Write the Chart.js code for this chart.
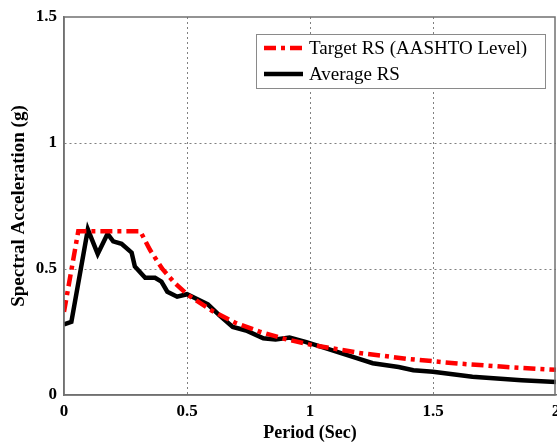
<!DOCTYPE html>
<html>
<head>
<meta charset="utf-8">
<script src="https://cdn.jsdelivr.net/npm/chart.js@4.4.1/dist/chart.umd.min.js"></script>
<style>
  html, body { margin: 0; padding: 0; background: #fff; }
  #wrap { width: 557px; height: 445px; }
</style>
</head>
<body>
<div id="wrap"><canvas id="rs" width="557" height="445"></canvas></div>
<script>
// values
const periodTarget = [0, 0.058, 0.31, 0.35, 0.4, 0.45, 0.5, 0.6, 0.7, 0.8, 0.9, 1.0, 1.2, 1.4, 1.6, 1.8, 2.0];
const targetRS     = [0.33, 0.65, 0.65, 0.575, 0.5, 0.445, 0.4, 0.335, 0.285, 0.25, 0.222, 0.2, 0.167, 0.143, 0.125, 0.111, 0.1];

const periodAvg = [0, 0.03, 0.097, 0.137, 0.177, 0.2, 0.234, 0.275, 0.288, 0.33, 0.37, 0.396, 0.42, 0.46, 0.5,
                   0.585, 0.633, 0.686, 0.74, 0.81, 0.86, 0.917, 0.985, 1.066, 1.19, 1.255, 1.36, 1.42, 1.5, 1.66, 1.86, 2.0];
const avgRS     = [0.28, 0.29, 0.657, 0.56, 0.64, 0.61, 0.6, 0.565, 0.51, 0.465, 0.465, 0.45, 0.41, 0.39, 0.40,
                   0.36, 0.315, 0.27, 0.256, 0.225, 0.22, 0.228, 0.21, 0.185, 0.146, 0.126, 0.111, 0.098, 0.092, 0.072, 0.059, 0.052];

const xTicks = [0, 0.5, 1, 1.5, 2];
const yTicks = [0, 0.5, 1, 1.5];
const seriesNames = ['Target RS (AASHTO Level)', 'Average RS'];

const zip = (xs, ys) => xs.map((x, i) => ({ x: x, y: ys[i] }));
const SERIF = '"Liberation Serif", "Times New Roman", serif';
const GRID = '#808080';
const FRAME = '#707070';

// box round the plot + legend drawn inside, like the matlab figure
const frameAndLegend = {
  id: 'frameAndLegend',
  afterDatasetsDraw(chart) {
    const { ctx, chartArea: a } = chart;
    ctx.save();
    ctx.strokeStyle = FRAME;
    ctx.lineWidth = 1.5;
    ctx.strokeRect(a.left, a.top, a.right - a.left - 1, a.bottom - a.top);

    const bx = 256, by = 34, bw = 289, bh = 54;
    ctx.fillStyle = '#fff';
    ctx.fillRect(bx, by, bw, bh);
    ctx.strokeStyle = '#8a8a8a';
    ctx.lineWidth = 1;
    ctx.strokeRect(bx + 0.5, by + 0.5, bw, bh);

    chart.data.datasets.forEach((ds, i) => {
      const y = by + 14 + i * 26;
      ctx.beginPath();
      ctx.setLineDash(ds.borderDash || []);
      ctx.strokeStyle = ds.borderColor;
      ctx.lineWidth = ds.borderWidth;
      ctx.moveTo(bx + 8, y);
      ctx.lineTo(bx + 47, y);
      ctx.stroke();
      ctx.setLineDash([]);
      ctx.fillStyle = '#000';
      ctx.font = '19px ' + SERIF;
      ctx.textBaseline = 'middle';
      ctx.textAlign = 'left';
      ctx.fillText(ds.label, bx + 53, y + 1);
    });
    ctx.restore();
  }
};

new Chart(document.getElementById('rs'), {
  type: 'line',
  data: {
    datasets: [
      {
        label: seriesNames[0],
        data: zip(periodTarget, targetRS),
        borderColor: '#ff0000',
        borderWidth: 4.5,
        borderDash: [12, 5, 4, 5],
        pointRadius: 0,
        tension: 0,
        fill: false
      },
      {
        label: seriesNames[1],
        data: zip(periodAvg, avgRS),
        borderColor: '#000000',
        borderWidth: 4.5,
        pointRadius: 0,
        tension: 0,
        fill: false
      }
    ]
  },
  options: {
    responsive: false,
    animation: false,
    layout: { padding: { top: 17, right: 1, left: 0, bottom: 0 } },
    plugins: { legend: { display: false }, tooltip: { enabled: false } },
    scales: {
      x: {
        type: 'linear',
        min: 0, max: 2,
        afterFit: s => { s.height = 50; s.paddingLeft = 0; s.paddingRight = 0; },
        afterBuildTicks: s => { s.ticks = xTicks.map(v => ({ value: v })); },
        ticks: {
          color: '#000',
          padding: 6,
          font: { family: SERIF, size: 17, weight: 'bold' },
          callback: v => String(v)
        },
        grid: {
          drawTicks: false,
          color: c => (c.tick && c.tick.value > 0 && c.tick.value < 2) ? GRID : 'rgba(0,0,0,0)',
          lineWidth: 1
        },
        border: { display: true, color: FRAME, width: 1.5, dash: [2, 3] },
        title: {
          display: true,
          text: 'Period (Sec)',
          color: '#000',
          padding: { top: 0, bottom: 1 },
          font: { family: SERIF, size: 18, weight: 'bold' }
        }
      },
      y: {
        min: 0, max: 1.5,
        afterFit: s => { s.width = 64; s.paddingTop = 0; s.paddingBottom = 0; },
        afterBuildTicks: s => { s.ticks = yTicks.map(v => ({ value: v })); },
        ticks: {
          color: '#000',
          padding: 7,
          font: { family: SERIF, size: 17, weight: 'bold' },
          callback: v => String(v)
        },
        grid: {
          drawTicks: false,
          color: c => (c.tick && c.tick.value > 0 && c.tick.value < 1.5) ? GRID : 'rgba(0,0,0,0)',
          lineWidth: 1
        },
        border: { display: true, color: FRAME, width: 1.5, dash: [2, 3] },
        title: {
          display: true,
          text: 'Spectral Acceleration (g)',
          color: '#000',
          padding: { top: 8, bottom: 0 },
          font: { family: SERIF, size: 19, weight: 'bold' }
        }
      }
    }
  },
  plugins: [frameAndLegend]
});
</script>
</body>
</html>
